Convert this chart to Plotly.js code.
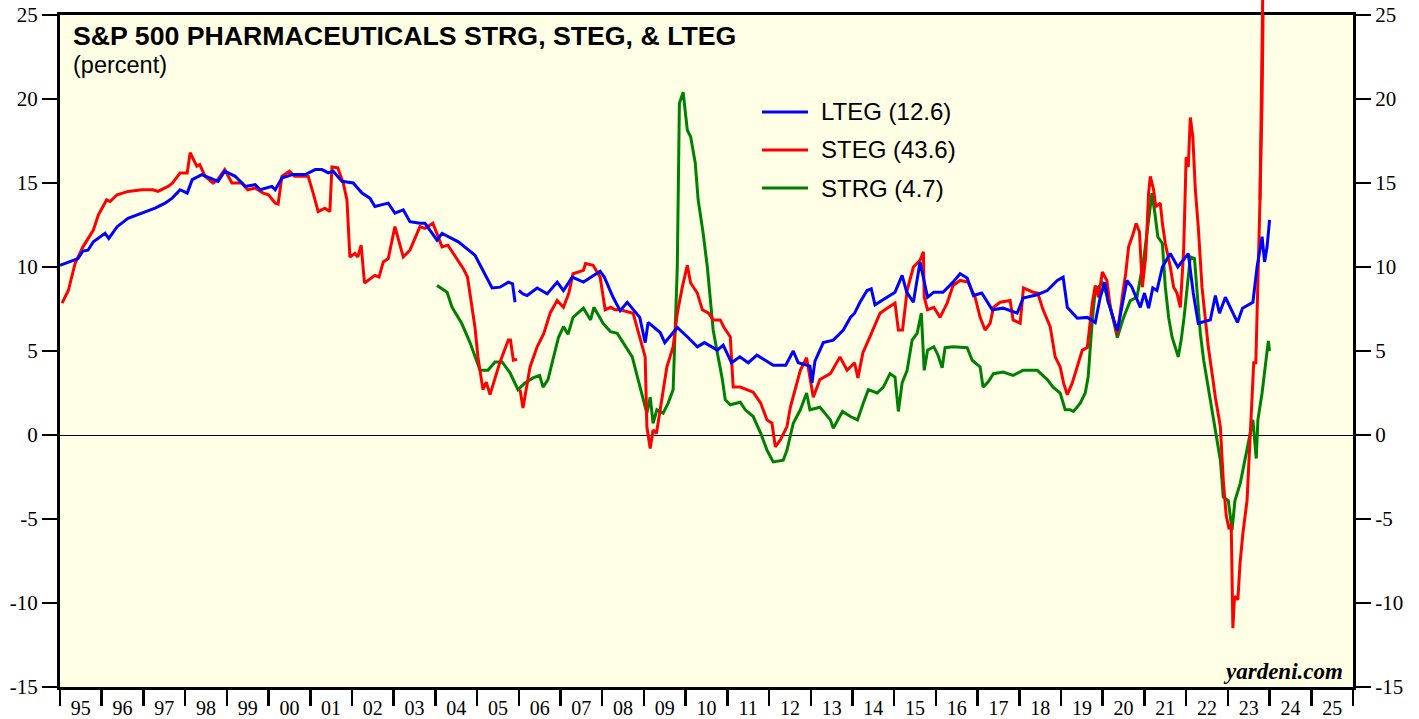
<!DOCTYPE html>
<html>
<head>
<meta charset="utf-8">
<script src="https://cdn.plot.ly/plotly-3.0.1.min.js"></script>
<style>html,body{margin:0;padding:0;background:#fff;}#chart{width:1419px;height:719px;}</style>
</head>
<body>
<div id="chart"></div>
<script>
// ---- Data (decimal years, percent) ----
const yearLabels = ['95','96','97','98','99','00','01','02','03','04','05','06','07','08','09','10','11','12','13','14','15','16','17','18','19','20','21','22','23','24','25'];
const yTicks = [-15,-10,-5,0,5,10,15,20,25];

const ltegX = [
1995.00,1995.43,1995.55,1995.67,1995.80,1996.08,1996.17,1996.37,1996.63,1996.97,
1997.28,1997.52,1997.69,1997.88,1998.05,1998.17,1998.40,1998.79,1998.95,1999.20,
1999.44,1999.68,1999.80,2000.08,2000.16,2000.32,2000.57,2000.88,2001.12,2001.28,
2001.43,2001.55,2001.76,2002.03,2002.24,2002.43,2002.55,2002.87,2003.03,2003.23,
2003.39,2003.63,2003.75,2004.04,2004.16,2004.55,2004.95,2005.36,2005.55,2005.75,
2005.85,2005.91,2005.95,2006.00,2006.10,2006.20,2006.44,2006.68,2006.92,2007.07,
2007.28,2007.55,2007.75,2007.95,2008.05,2008.26,2008.43,2008.60,2008.90,2009.03,
2009.10,2009.39,2009.50,2009.80,2010.04,2010.28,2010.45,2010.76,2010.90,2011.10,
2011.30,2011.50,2011.71,2012.10,2012.40,2012.58,2012.70,2012.98,2013.03,2013.10,
2013.30,2013.54,2013.78,2013.95,2014.05,2014.18,2014.35,2014.45,2014.54,2014.83,
2015.02,2015.19,2015.30,2015.46,2015.62,2015.80,2015.95,2016.17,2016.41,2016.58,
2016.75,2016.90,2017.10,2017.35,2017.61,2017.95,2018.09,2018.43,2018.67,2018.91,
2019.05,2019.15,2019.39,2019.63,2019.82,2019.94,2020.05,2020.12,2020.35,2020.58,
2020.70,2020.90,2021.00,2021.10,2021.20,2021.30,2021.43,2021.62,2021.80,2022.05,
2022.17,2022.29,2022.58,2022.70,2022.80,2022.94,2023.23,2023.35,2023.60,2023.70,
2023.82,2023.88,2023.94,2024.00];
const ltegY = [
10.1,10.5,10.95,11.0,11.5,12.0,11.7,12.4,12.9,13.2,
13.5,13.8,14.1,14.6,14.4,15.2,15.5,15.1,15.7,15.4,
14.8,14.9,14.6,14.8,14.6,15.3,15.5,15.5,15.8,15.8,
15.6,15.7,15.1,15.0,14.4,14.1,13.6,13.8,13.2,13.4,
12.7,12.6,12.6,11.6,12.0,11.5,10.7,8.75,8.8,9.1,
9.0,7.9,null,8.6,8.4,8.3,8.75,8.4,9.1,8.6,
9.4,9.1,9.4,9.75,9.4,8.2,7.4,7.9,7.0,5.5,
6.7,6.1,5.5,6.4,5.85,5.25,5.5,5.05,5.35,4.3,
4.65,4.3,4.75,4.15,4.15,5.0,4.3,4.1,3.1,4.4,
5.5,5.65,6.25,7.0,7.25,7.9,8.6,8.7,7.75,8.2,
8.5,9.5,8.5,7.9,10.3,8.2,8.5,8.5,9.1,9.6,
9.35,8.3,8.45,7.45,7.55,7.25,8.15,8.35,8.6,9.2,
9.4,7.6,6.95,7.0,6.7,8.2,9.1,8.0,6.2,9.2,
8.8,7.6,8.45,7.55,8.75,8.6,10.0,10.8,10.0,10.8,
8.45,6.65,6.85,8.3,7.25,8.2,6.7,7.55,7.9,10.0,
11.8,10.3,11.2,12.8];

const stegX = [
1995.05,1995.20,1995.36,1995.55,1995.80,1995.92,1996.12,1996.20,1996.37,1996.63,
1996.97,1997.23,1997.35,1997.59,1997.70,1997.88,1998.05,1998.12,1998.28,1998.35,
1998.48,1998.67,1998.78,1998.95,1999.12,1999.36,1999.50,1999.68,1999.87,2000.00,
2000.16,2000.23,2000.32,2000.50,2000.62,2000.95,2001.07,2001.19,2001.35,2001.47,
2001.52,2001.66,2001.79,2001.88,2001.95,2002.07,2002.14,2002.22,2002.30,2002.55,
2002.65,2002.75,2002.87,2003.03,2003.23,2003.39,2003.63,2003.75,2003.94,2004.16,
2004.30,2004.43,2004.67,2004.77,2004.90,2004.95,2005.02,2005.14,2005.22,2005.31,
2005.55,2005.75,2005.80,2005.87,2005.96,2006.00,2006.03,2006.10,2006.27,2006.44,
2006.60,2006.75,2006.92,2007.07,2007.20,2007.30,2007.55,2007.60,2007.78,2007.95,
2008.07,2008.20,2008.30,2008.43,2008.74,2008.90,2009.03,2009.07,2009.15,2009.22,
2009.30,2009.39,2009.55,2009.70,2009.80,2009.92,2010.04,2010.12,2010.28,2010.40,
2010.55,2010.66,2010.83,2010.92,2011.07,2011.14,2011.31,2011.62,2011.80,2011.95,
2012.07,2012.15,2012.27,2012.43,2012.51,2012.75,2012.90,2013.06,2013.22,2013.47,
2013.70,2013.87,2014.05,2014.13,2014.25,2014.42,2014.66,2014.83,2015.02,2015.10,
2015.20,2015.31,2015.46,2015.62,2015.70,2015.72,2015.80,2015.95,2016.10,2016.27,
2016.41,2016.58,2016.77,2016.94,2017.06,2017.18,2017.30,2017.38,2017.54,2017.78,
2017.85,2018.02,2018.10,2018.33,2018.44,2018.57,2018.74,2018.86,2018.98,2019.06,
2019.15,2019.27,2019.39,2019.51,2019.63,2019.75,2019.82,2019.90,2019.99,2020.10,
2020.18,2020.35,2020.49,2020.55,2020.62,2020.72,2020.80,2020.88,2020.95,2021.03,
2021.10,2021.14,2021.22,2021.27,2021.38,2021.43,2021.50,2021.62,2021.70,2021.78,
2021.86,2021.94,2022.00,2022.05,2022.10,2022.16,2022.22,2022.29,2022.38,2022.53,
2022.62,2022.70,2022.82,2022.89,2022.96,2023.03,2023.08,2023.12,2023.16,2023.24,
2023.29,2023.36,2023.46,2023.53,2023.58,2023.62,2023.67,2023.72,2023.77,2023.82,
2023.86,2023.90,2023.93];
const stegY = [
7.85,8.6,10.2,11.2,12.2,13.1,14.0,13.9,14.3,14.5,
14.6,14.6,14.5,14.8,15.0,15.6,15.6,16.8,16.0,16.1,
15.4,15.0,15.2,15.8,15.0,15.0,14.6,14.7,14.4,14.3,
13.8,13.75,15.4,15.7,15.4,15.4,14.4,13.3,13.5,13.3,
15.95,15.9,15.0,14.0,10.6,10.8,10.6,11.3,9.05,9.5,
9.4,10.3,10.5,12.4,10.6,11.0,12.4,12.3,12.6,11.2,
11.3,10.8,9.9,9.4,7.0,6.4,4.65,2.7,3.15,2.4,
4.35,5.65,5.65,4.45,4.5,null,2.7,1.6,4.05,5.25,
6.05,7.25,8.0,7.6,8.45,9.6,9.8,10.2,10.1,9.4,
7.45,7.6,7.45,7.45,7.25,5.85,4.65,0.5,-0.8,0.3,
0.1,1.5,4.05,5.25,7.25,8.8,10.1,9.05,8.45,7.45,
7.25,6.85,6.85,6.4,5.85,2.85,2.85,2.55,1.9,0.9,
0.7,-0.7,-0.3,0.5,1.65,3.85,4.6,2.25,3.3,3.65,
4.65,3.85,4.3,3.4,4.9,5.85,7.25,7.55,7.85,6.25,
6.25,8.6,10.0,10.4,10.9,8.2,7.45,7.6,7.0,7.85,
8.9,9.2,9.1,8.2,7.0,6.25,6.65,7.6,7.9,8.0,
6.85,6.65,8.75,8.5,8.45,7.45,6.45,4.65,4.05,3.1,
2.4,3.1,4.05,5.05,5.2,7.85,8.9,8.2,9.7,9.2,
7.6,6.0,8.6,9.6,11.2,11.9,12.6,12.1,8.8,10.6,
14.4,15.4,14.6,13.6,13.8,12.6,11.4,10.0,8.8,8.45,
7.6,11.0,16.55,15.95,18.9,17.75,14.6,12.4,8.8,5.25,
3.7,2.25,0.5,-2.7,-4.8,-5.6,-5.3,-11.5,-9.6,-9.8,
-7.7,-5.85,-3.9,-0.3,2.1,4.3,4.3,8.45,14.0,19.9,
26.0,35.0,43.6];

const strgX = [
2004.04,2004.28,2004.40,2004.63,2004.83,2004.90,2005.07,2005.26,2005.43,2005.60,
2005.79,2005.98,2006.15,2006.34,2006.50,2006.58,2006.70,2006.83,2006.95,2007.07,
2007.18,2007.30,2007.55,2007.72,2007.80,2008.02,2008.20,2008.36,2008.50,2008.72,
2008.86,2008.98,2009.07,2009.15,2009.22,2009.31,2009.46,2009.58,2009.70,2009.80,
2009.85,2009.94,2010.04,2010.12,2010.23,2010.30,2010.42,2010.52,2010.59,2010.66,
2010.76,2010.88,2010.95,2011.07,2011.31,2011.43,2011.62,2011.80,2011.95,2012.10,
2012.34,2012.43,2012.58,2012.75,2012.90,2012.98,2013.22,2013.47,2013.54,2013.76,
2013.95,2014.12,2014.26,2014.38,2014.59,2014.74,2014.90,2015.02,2015.10,2015.19,
2015.31,2015.43,2015.55,2015.65,2015.72,2015.80,2015.95,2016.05,2016.15,2016.22,
2016.41,2016.75,2016.87,2017.06,2017.13,2017.25,2017.38,2017.61,2017.85,2018.09,
2018.43,2018.67,2018.81,2018.98,2019.10,2019.22,2019.30,2019.46,2019.58,2019.65,
2019.75,2019.82,2019.99,2020.15,2020.35,2020.50,2020.66,2020.82,2020.98,2021.10,
2021.18,2021.25,2021.32,2021.43,2021.50,2021.58,2021.66,2021.81,2021.88,2021.95,
2022.05,2022.10,2022.20,2022.27,2022.34,2022.42,2022.53,2022.65,2022.74,2022.82,
2022.89,2023.01,2023.10,2023.17,2023.30,2023.41,2023.53,2023.60,2023.68,2023.72,
2023.82,2023.89,2023.97,2024.00];
const strgY = [
8.9,8.5,7.6,6.65,5.5,5.05,3.85,3.85,4.35,4.35,
3.7,2.7,3.1,3.4,3.55,2.85,3.3,4.6,5.8,6.45,
6.0,7.0,7.55,6.85,7.6,6.65,6.15,6.05,5.5,4.65,
3.3,2.1,1.3,2.25,0.7,1.5,1.3,1.9,2.7,10.0,
19.75,20.4,18.15,17.75,16.2,14.0,12.0,10.0,8.2,6.25,
4.9,3.3,2.1,1.8,1.95,1.5,1.1,0.1,-0.9,-1.6,
-1.5,-0.9,0.7,1.5,2.5,1.5,1.65,0.9,0.4,1.4,
1.1,0.9,1.9,2.7,2.5,2.85,3.65,3.45,1.4,3.1,
3.85,5.65,6.05,7.25,3.85,5.05,5.25,4.75,4.0,5.2,
5.25,5.2,4.45,4.05,2.85,3.15,3.65,3.75,3.55,3.85,
3.85,3.3,2.85,2.5,1.5,1.5,1.4,1.9,2.5,3.45,
6.85,8.6,9.05,8.0,5.8,7.0,8.0,8.2,10.4,13.0,
14.4,13.2,11.8,11.4,8.8,7.0,5.85,4.65,5.65,7.0,
9.6,10.6,10.5,8.45,6.05,4.45,2.85,0.9,-0.3,-1.5,
-3.7,-3.9,-5.65,-3.9,-2.85,-1.5,0.1,0.9,-1.4,0.9,
2.5,4.05,5.6,5.0];

const seriesNames = ['LTEG (12.6)','STEG (43.6)','STRG (4.7)'];
const seriesColors = ['#0000FF','#FF0000','#008000'];

// ---- Layout geometry ----
const W = 1419, H = 719;
const M = {l:60, r:66, t:0, b:32};
const plotH = H - M.t - M.b;          // 687
const frameTop = 15;
const mainTop = (plotH - frameTop) / plotH;
const yMin = -15, yMax = 25;
const pxPerUnit = (plotH - frameTop) / (yMax - yMin);
const y2Max = yMin + plotH / pxPerUnit;
const xStart = 1995, xEnd = 2026;
const plotW = W - M.l - M.r;
const px2x = p => (p - M.l) / plotW;
const py2y = p => (plotH - p) / plotH;

const years = [];
for (let y = xStart; y <= xEnd; y++) years.push(y);
const midYears = years.slice(0, -1).map(y => y + 0.5);

// tail of STEG that escapes the frame at the top
const tailStart = Math.max(0, stegY.findIndex((v, i) => stegX[i] > 2023 && v > 15) - 1);

const lw = 3;
const traces = [
  {x: strgX, y: strgY, type:'scatter', mode:'lines', name: seriesNames[2], line:{color:seriesColors[2], width:lw}, connectgaps:false},
  {x: stegX, y: stegY, type:'scatter', mode:'lines', name: seriesNames[1], line:{color:seriesColors[1], width:lw}, connectgaps:false},
  {x: stegX.slice(tailStart), y: stegY.slice(tailStart), type:'scatter', mode:'lines', name: seriesNames[1], yaxis:'y2', line:{color:seriesColors[1], width:lw}, showlegend:false},
  {x: ltegX, y: ltegY, type:'scatter', mode:'lines', name: seriesNames[0], yaxis:'y3', line:{color:seriesColors[0], width:lw}, connectgaps:false}
];

const serif = 'Liberation Serif, Times New Roman, serif';
const sans = 'Liberation Sans, Arial, sans-serif';

const annotations = [
  {xref:'paper', yref:'paper', x:px2x(71), y:py2y(36), xanchor:'left', yanchor:'middle', showarrow:false,
   text:'<b>S&amp;P 500 PHARMACEUTICALS STRG, STEG, &amp; LTEG</b>', font:{family:sans, size:26.7, color:'#000'}},
  {xref:'paper', yref:'paper', x:px2x(71), y:py2y(65), xanchor:'left', yanchor:'middle', showarrow:false,
   text:'(percent)', font:{family:sans, size:23.5, color:'#000'}},
  {xref:'paper', yref:'paper', x:px2x(1345), y:py2y(671), xanchor:'right', yanchor:'middle', showarrow:false,
   text:'<b><i>yardeni.com</i></b>', font:{family:serif, size:23, color:'#000'}}
];
const legendRows = [112, 150, 188];
const shapes = [
  {type:'rect', xref:'paper', yref:'paper', x0:0, x1:1, y0:0, y1:mainTop, fillcolor:'rgb(255,255,230)', line:{width:0}, layer:'below'}
];
seriesNames.forEach((n, i) => {
  shapes.push({type:'line', xref:'paper', yref:'paper', x0:px2x(762), x1:px2x(808), y0:py2y(legendRows[i]), y1:py2y(legendRows[i]),
    line:{color:seriesColors[i], width:3}});
  annotations.push({xref:'paper', yref:'paper', x:px2x(819), y:py2y(legendRows[i]), xanchor:'left', yanchor:'middle', showarrow:false,
    text:n, font:{family:sans, size:24, color:'#000'}});
});

const yAxisCommon = {
  range:[yMin, yMax], tickmode:'array', tickvals:yTicks, ticktext:yTicks.map(String),
  ticks:'outside', ticklen:15, tickwidth:1.5, tickcolor:'#000',
  tickfont:{family:serif, size:21, color:'#000'}, showgrid:false,
  showline:true, linecolor:'#000', linewidth:3, domain:[0, mainTop], fixedrange:true
};

const layout = {
  width:W, height:H, margin:M, paper_bgcolor:'#fff', plot_bgcolor:'rgba(0,0,0,0)',
  showlegend:false, hovermode:false,
  xaxis:{range:[xStart, xEnd], tickmode:'array', tickvals:midYears, ticktext:yearLabels,
    ticks:'outside', ticklen:1, tickcolor:'rgba(0,0,0,0)', tickfont:{family:serif, size:20, color:'#000'},
    minor:{tickmode:'array', tickvals:years, ticks:'outside', ticklen:16, tickwidth:2.5, tickcolor:'#000', showgrid:false},
    showgrid:false, zeroline:false, showline:true, mirror:true, linecolor:'#000', linewidth:3, anchor:'y', fixedrange:true},
  yaxis:Object.assign({}, yAxisCommon, {side:'left', zeroline:true, zerolinecolor:'#000', zerolinewidth:1, anchor:'x'}),
  yaxis3:Object.assign({}, yAxisCommon, {side:'right', overlaying:'y', zeroline:false, anchor:'x'}),
  yaxis2:{range:[yMin, y2Max], domain:[0,1], visible:false, anchor:'x', fixedrange:true, showgrid:false, zeroline:false},
  annotations:annotations, shapes:shapes
};

Plotly.newPlot('chart', traces, layout, {displayModeBar:false, staticPlot:true});
</script>
</body>
</html>
